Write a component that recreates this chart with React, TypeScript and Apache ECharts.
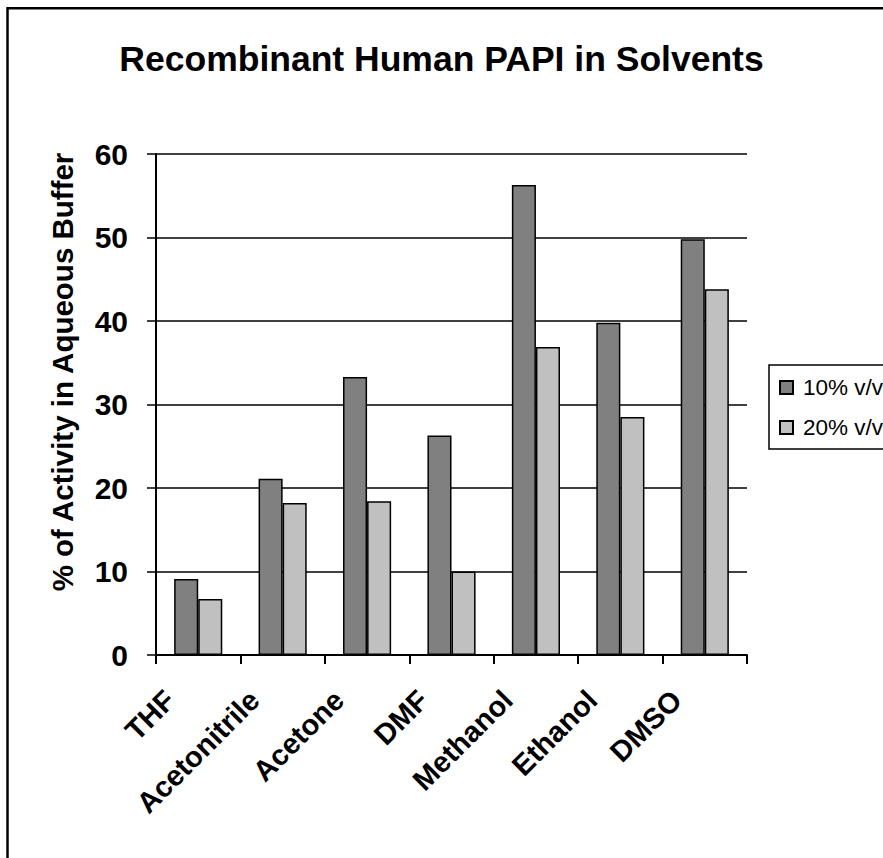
import React, { useEffect, useRef } from "react";
import * as echarts from "echarts";

const categories = ["THF", "Acetonitrile", "Acetone", "DMF", "Methanol", "Ethanol", "DMSO"];
const seriesNames = ["10% v/v", "20% v/v"];
const values10 = [9.1, 21.1, 33.3, 26.3, 56.3, 39.8, 49.8];
const values20 = [6.7, 18.2, 18.4, 10.0, 36.9, 28.5, 43.8];
const yTicks = [0, 10, 20, 30, 40, 50, 60];

const FONT = "'Liberation Sans', Arial, sans-serif";

export default function App() {
  const ref = useRef<HTMLDivElement>(null);
  useEffect(() => {
    document.body.style.margin = "0";
    document.body.style.overflow = "hidden";
    const chart = echarts.init(ref.current!, null, { renderer: "svg" });
    chart.setOption({
      animation: false,
      backgroundColor: "#ffffff",
      title: {
        text: "Recombinant Human PAPI in Solvents",
        left: "center",
        top: 36,
        textStyle: { fontFamily: FONT, fontSize: 35.5, fontWeight: "bold", color: "#000" },
      },
      graphic: [
        {
          type: "rect",
          shape: { x: 7.5, y: 8.2, width: 1200, height: 1200 },
          style: { fill: "none", stroke: "#000", lineWidth: 2.5 },
          silent: true,
          z: 100,
        },
        {
          type: "text",
          x: 62,
          y: 372,
          rotation: Math.PI / 2,
          style: {
            text: "% of Activity in Aqueous Buffer",
            fontFamily: FONT,
            fontSize: 29.5,
            fontWeight: "bold",
            fill: "#000",
            textAlign: "center",
            textVerticalAlign: "middle",
          },
        },
      ],
      legend: {
        data: seriesNames,
        orient: "vertical",
        left: 769,
        top: 365,
        borderColor: "#000",
        borderWidth: 1.5,
        padding: [11, 30, 10, 10],
        itemWidth: 13,
        itemHeight: 13,
        itemGap: 17,
        icon: "rect",
        textStyle: { fontFamily: FONT, fontSize: 22.5, color: "#000", padding: [0, 0, 0, 5] },
      },
      grid: { left: 156, top: 154, width: 591, height: 501, containLabel: false },
      xAxis: {
        type: "category",
        data: categories,
        axisLine: { lineStyle: { color: "#000", width: 2 } },
        axisTick: { show: true, length: 9, alignWithLabel: false, lineStyle: { color: "#000", width: 2 } },
        axisLabel: {
          interval: 0,
          rotate: 45,
          margin: 12,
          padding: [0, 40, 0, 0],
          fontFamily: FONT,
          fontSize: 29,
          fontWeight: "bold",
          color: "#000",
        },
      },
      yAxis: {
        type: "value",
        min: yTicks[0],
        max: yTicks[yTicks.length - 1],
        interval: 10,
        axisLine: { show: true, lineStyle: { color: "#000", width: 2 } },
        axisTick: { show: true, length: 9, lineStyle: { color: "#000", width: 1.5 } },
        splitLine: { show: true, lineStyle: { color: "#000", width: 1.5 } },
        axisLabel: {
          margin: 28,
          fontFamily: FONT,
          fontSize: 30,
          fontWeight: "bold",
          color: "#000",
        },
      },
      series: [
        {
          name: seriesNames[0],
          type: "bar",
          data: values10,
          barGap: "0%",
          barCategoryGap: "43%",
          itemStyle: { color: "#808080", borderColor: "#000", borderWidth: 1.5 },
        },
        {
          name: seriesNames[1],
          type: "bar",
          data: values20,
          itemStyle: { color: "#C0C0C0", borderColor: "#000", borderWidth: 1.5 },
        },
      ],
    });
    return () => chart.dispose();
  }, []);
  return <div ref={ref} style={{ width: 883, height: 858, position: "absolute", left: 0, top: 0 }} />;
}
